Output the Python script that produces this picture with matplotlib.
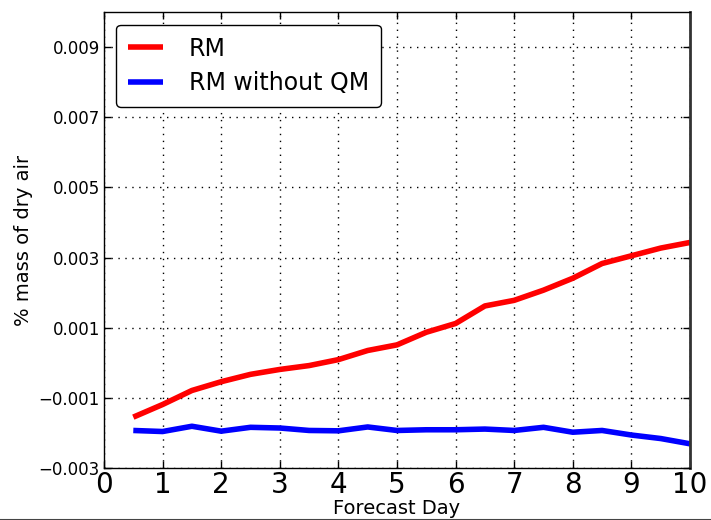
import numpy as np
import matplotlib.pyplot as plt
from matplotlib.lines import Line2D

# forecast days (every half day)
days = [0.5, 1.0, 1.5, 2.0, 2.5, 3.0, 3.5, 4.0, 4.5, 5.0,
        5.5, 6.0, 6.5, 7.0, 7.5, 8.0, 8.5, 9.0, 9.5, 10.0]

# % mass of dry air
rm = [-0.00155, -0.00119, -0.00079, -0.00054, -0.00033, -0.00019, -0.00008, 0.00009, 0.00035, 0.00051,
      0.00087, 0.00112, 0.00162, 0.00178, 0.00207, 0.00241, 0.00283, 0.00305, 0.00327, 0.00343]
rm_no_qm = [-0.00193, -0.00196, -0.00181, -0.00195, -0.00184, -0.00186, -0.00193, -0.00194, -0.00183, -0.00193,
            -0.00191, -0.00191, -0.00189, -0.00193, -0.00184, -0.00198, -0.00193, -0.00206, -0.00216, -0.00231]

xticks = list(range(0, 11))
yticks = [-0.003, -0.001, 0.001, 0.003, 0.005, 0.007, 0.009]

plt.rcParams['font.family'] = ['DejaVu Sans']

fig = plt.figure(figsize=(7.11, 5.20), dpi=100)
ax = fig.add_axes([104 / 711, 1 - 468 / 520, 586 / 711, 456 / 520])

ax.plot(days, rm, color='red', lw=4, label='RM', solid_capstyle='butt')
ax.plot(days, rm_no_qm, color='blue', lw=4, label='RM without QM', solid_capstyle='butt')

ax.set_xlim(0, 10)
ax.set_ylim(-0.003, 0.010)
ax.set_xticks(xticks)
ax.set_yticks(yticks)
ax.set_xticklabels([str(t) for t in xticks], fontsize=20)
ax.set_yticklabels(['\u2212' + f"{abs(t):.3f}" if t < 0 else f"{t:.3f}" for t in yticks], fontsize=12)
ax.tick_params(direction='in', length=5, width=1, top=True, right=True, pad=3)
ax.tick_params(axis='x', pad=2)

ax.grid(True, color='black', linestyle=(0, (1, 4)), linewidth=1)
for s in ax.spines.values():
    s.set_linewidth(1)
ax.spines['right'].set_linewidth(2)
ax.spines['right'].set_color('#333333')

ax.set_xlabel('Forecast Day', fontsize=14, labelpad=0)
ax.set_ylabel('% mass of dry air', fontsize=14, labelpad=4)

leg = ax.legend(loc='upper left', fontsize=17, fancybox=True, framealpha=1,
                edgecolor='black', handlelength=1.5, handletextpad=1.1,
                borderpad=0.5, labelspacing=0.45, bbox_to_anchor=(0.0, 0.998))
leg.get_frame().set_linewidth(1)

# thin frame line at the image bottom
fig.add_artist(Line2D([0, 1], [0.5 / 520, 0.5 / 520], transform=fig.transFigure, color='#444444', lw=1.5))

fig.savefig('out.png', dpi=100)
